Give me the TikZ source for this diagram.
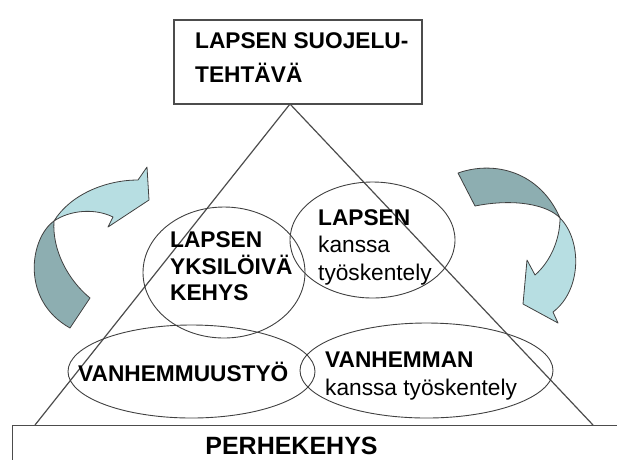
\documentclass[tikz,border=0pt]{standalone}
\usepackage{fontspec}
\setmainfont{Liberation Sans}
\usepackage{tikz}
\usetikzlibrary{shapes.geometric}
\definecolor{arrowlight}{RGB}{183,222,226}
\definecolor{arrowdark}{RGB}{141,174,177}
\tikzset{
  frame/.style={draw=black!70,line width=1.2},
  oval/.style={ellipse,draw=black!75,line width=0.9,inner sep=0},
  lbl/.style={inner sep=0,align=left,text=black},
  arrlight/.style={fill=arrowlight,draw=black!75,line width=0.8,line join=round},
  arrdark/.style={fill=arrowdark,draw=black!75,line width=0.8,line join=round}
}
\begin{document}
\begin{tikzpicture}[x=1pt,y=-1pt]
\useasboundingbox (0,0) rectangle (617,459);
% top box and family frame
\node[frame,inner sep=0,minimum width=248pt,minimum height=84pt] (task) at (298,62) {};
\node[lbl,anchor=west,font=\bfseries\fontsize{22.7}{34}\selectfont] (tasktxt) at (195,58) {LAPSEN SUOJELU-\\TEHTÄVÄ};
\node[frame,inner sep=0,anchor=north west,minimum width=640pt,minimum height=60pt] (family) at (12,425) {};
\node[lbl,anchor=base,font=\bfseries\fontsize{25}{30}\selectfont] (familytxt) at (291.5,454.5) {PERHEKEHYS};
% triangle
\coordinate (apex) at (290,104);
\coordinate (baseL) at (35,425);
\coordinate (baseR) at (593,425);
\draw[frame,line join=round] (baseL) -- (apex) -- (baseR);
% ovals
\node[oval,minimum width=162pt,minimum height=131pt] (frameoval) at (224,272.5) {};
\node[oval,minimum width=165pt,minimum height=116pt] (childoval) at (372.5,240) {};
\node[oval,minimum width=247pt,minimum height=93pt] (parentingoval) at (191.5,371.5) {};
\node[oval,minimum width=253pt,minimum height=95pt] (parentoval) at (426.5,370.5) {};
\node[lbl,anchor=west,font=\bfseries\fontsize{22.7}{26.5}\selectfont] (frametxt) at (170,266.5) {LAPSEN\\YKSILÖIVÄ\\KEHYS};
\node[lbl,anchor=west,font=\fontsize{22.7}{27.5}\selectfont] (childtxt) at (318,247) {\textbf{LAPSEN}\\kanssa\\työskentely};
\node[lbl,anchor=base west,font=\bfseries\fontsize{22.7}{27}\selectfont] (parentingtxt) at (78,381) {VANHEMMUUSTYÖ};
\node[lbl,anchor=west,font=\fontsize{22.7}{28}\selectfont] (parenttxt) at (325,376) {\textbf{VANHEMMAN}\\kanssa työskentely};
% left curved arrow
\coordinate (lP) at (54,221);
\draw[arrdark] (lP) .. controls (30,238) and (20,300) .. (70,328) -- (90,298) .. controls (68,280) and (52,250) .. (lP) -- cycle;
\draw[arrlight] (lP) .. controls (70,195) and (105,180) .. (138,180) -- (147,167) -- (149,200) -- (108,227) -- (113,217) .. controls (95,208) and (70,210) .. (lP) -- cycle;
% right curved arrow
\coordinate (rQ) at (560,218);
\draw[arrdark] (458,173) .. controls (495,160) and (540,172) .. (rQ) .. controls (548,205) and (515,198) .. (475,206) -- cycle;
\draw[arrlight] (rQ) .. controls (582,240) and (582,290) .. (553,312) -- (558,323) -- (523,304) -- (527,260) -- (535,275) .. controls (550,262) and (560,240) .. (rQ) -- cycle;
\end{tikzpicture}
\end{document}
